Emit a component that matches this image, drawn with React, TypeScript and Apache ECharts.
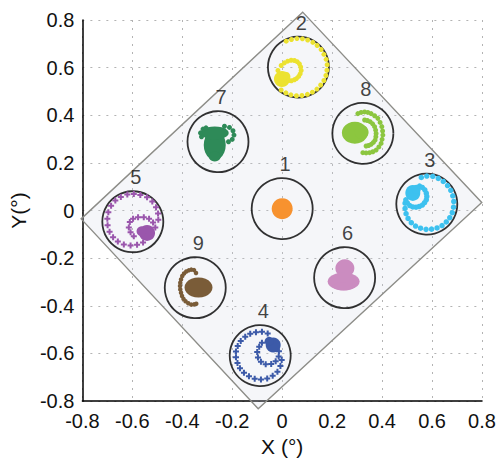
import React, { useEffect, useRef } from "react";
import * as echarts from "echarts";

// Field-of-view centres (degrees)
const CENTER_NAMES = ["1", "2", "3", "4", "5", "6", "7", "8", "9"];
const CENTER_X = [0.0, 0.065, 0.579, -0.088, -0.598, 0.25, -0.257, 0.323, -0.348];
const CENTER_Y = [0.008, 0.602, 0.027, -0.609, -0.047, -0.282, 0.289, 0.324, -0.324];
const COLORS = ["#f7922f", "#ece230", "#3dc1ef", "#3c5aa8", "#9a56ac", "#cb8cc0", "#2e8a58", "#8cc63f", "#7a5c38"];

// Detector footprint outline (degrees)
const DIAMOND_X = [0.082, 0.799, -0.096, -0.805];
const DIAMOND_Y = [0.833, 0.034, -0.832, -0.035];

// Axis ticks
const TICKS = [-0.8, -0.6, -0.4, -0.2, 0, 0.2, 0.4, 0.6, 0.8];

// Star track offsets from each centre (degrees): sparse trace points
const DOTS_1: number[][] = [];
const DOTS_2 = [
  [-0.049, 0.109], [-0.028, 0.116], [-0.006, 0.12], [0.016, 0.119], [0.037, 0.114], [0.058, 0.104],
  [0.075, 0.091], [0.091, 0.074], [0.102, 0.054], [0.111, 0.033], [0.115, 0.01], [0.114, -0.013],
  [0.11, -0.035], [0.102, -0.056], [0.089, -0.075], [0.074, -0.092], [0.056, -0.105], [0.036, -0.114],
  [0.014, -0.119], [-0.008, -0.12], [-0.03, -0.116], [-0.05, -0.108], [-0.069, -0.096],
  [-0.082, -0.014], [-0.069, 0.007], [-0.056, 0.018], [-0.043, 0.025], [-0.029, 0.029], [-0.016, 0.028],
  [-0.005, 0.023], [0.004, 0.014], [0.009, 0.001], [0.011, -0.014], [0.007, -0.028], [0.001, -0.039],
  [-0.008, -0.048], [-0.016, -0.053], [-0.028, -0.057], [-0.039, -0.056], [-0.052, -0.042],
];
const DOTS_3 = [
  [-0.022, 0.112], [0.0, 0.118], [0.024, 0.116], [0.046, 0.108], [0.066, 0.095], [0.083, 0.078],
  [0.096, 0.058], [0.104, 0.035], [0.108, 0.011], [0.107, -0.013], [0.102, -0.036], [0.092, -0.057],
  [0.078, -0.075], [0.061, -0.09], [0.041, -0.1], [0.019, -0.105], [-0.003, -0.106], [-0.025, -0.101],
  [-0.045, -0.092], [-0.062, -0.078], [-0.075, -0.06], [-0.083, -0.04], [-0.087, -0.018], [-0.087, 0.004],
  [-0.029, 0.076], [-0.018, 0.07], [-0.008, 0.06], [-0.002, 0.046], [0.0, 0.032], [-0.002, 0.018],
  [-0.009, 0.006], [-0.018, -0.004], [-0.03, -0.01], [-0.043, -0.013], [-0.056, -0.012], [-0.068, -0.006],
  [-0.078, 0.005], [-0.084, 0.018],
];
const DOTS_4 = [
  [0.03, 0.093], [0.007, 0.1], [-0.017, 0.098], [-0.04, 0.092], [-0.06, 0.079], [-0.078, 0.061],
  [-0.09, 0.04], [-0.097, 0.017], [-0.097, -0.007], [-0.091, -0.031], [-0.081, -0.053], [-0.065, -0.072],
  [-0.045, -0.087], [-0.022, -0.097], [0.003, -0.1], [0.028, -0.096], [0.05, -0.085], [0.069, -0.068],
  [0.081, -0.044], [0.086, -0.018],
  [0.007, 0.054], [-0.004, 0.037], [-0.012, 0.015], [-0.009, -0.008], [0.003, -0.026], [0.022, -0.036],
  [0.044, -0.035], [0.062, -0.024], [0.074, -0.004], [0.075, 0.018],
];
const DOTS_5 = [
  [0.004, 0.117], [0.03, 0.112], [0.057, 0.103], [0.078, 0.085], [0.093, 0.061], [0.101, 0.035],
  [0.102, 0.008], [-0.022, 0.114], [-0.048, 0.104], [-0.07, 0.089], [-0.087, 0.067], [-0.098, 0.04],
  [-0.102, 0.013], [-0.101, -0.015], [-0.093, -0.042], [-0.079, -0.065], [-0.06, -0.083], [-0.036, -0.096],
  [-0.009, -0.1], [0.017, -0.097], [0.041, -0.087],
  [-0.016, -0.024], [-0.012, -0.001], [0.001, 0.013], [0.021, 0.019], [0.044, 0.019], [0.065, 0.013],
  [0.081, -0.003], [0.09, -0.024], [-0.009, -0.044], [0.004, -0.061],
];
const DOTS_6: number[][] = [];
const DOTS_7 = [
  [-0.066, 0.021], [-0.07, 0.037], [-0.06, 0.053], [-0.048, 0.058], [0.026, 0.065], [0.046, 0.06],
  [0.06, 0.046], [0.064, 0.028], [0.057, 0.01], [0.042, 0.0],
];
const DOTS_8 = [
  [-0.02, 0.083], [-0.007, 0.088], [0.007, 0.09], [0.02, 0.088], [0.033, 0.083], [0.047, 0.074],
  [0.06, 0.063], [0.069, 0.046], [0.076, 0.028], [0.079, 0.01], [0.08, -0.007], [0.077, -0.025],
  [0.073, -0.042], [0.064, -0.057], [0.053, -0.07], [0.04, -0.077], [0.027, -0.081], [0.013, -0.082],
  [0.0, -0.081],
  [0.007, 0.056], [0.018, 0.054], [0.029, 0.049], [0.039, 0.04], [0.047, 0.028], [0.051, 0.014],
  [0.053, 0.0], [0.052, -0.014], [0.049, -0.028], [0.042, -0.038], [0.033, -0.046], [0.023, -0.051],
  [0.013, -0.053],
];
const DOTS_9 = [
  [-0.005, 0.074], [0.003, 0.062],
  [-0.016, 0.076], [-0.026, 0.073], [-0.036, 0.068], [-0.045, 0.06], [-0.052, 0.049], [-0.057, 0.035],
  [-0.06, 0.021], [-0.061, 0.007], [-0.06, -0.007], [-0.057, -0.021], [-0.053, -0.035], [-0.047, -0.047],
  [-0.039, -0.057], [-0.028, -0.065], [-0.016, -0.071], [-0.005, -0.07], [0.004, -0.067],
];

// Dense clusters of points (offsets, degrees)
const BLOBS_1 = [[0.0, 0.0]];
const BLOBS_2 = [[-0.066, -0.05], [-0.052, -0.04]];
const BLOBS_3 = [[-0.056, 0.047], [-0.042, 0.062]];
const BLOBS_4 = [[0.052, 0.045], [0.036, 0.06]];
const BLOBS_5 = [[0.057, -0.047], [0.035, -0.04]];
const BLOBS_6 = [[0.001, 0.04], [-0.004, -0.016], [-0.004, -0.036]];
const BLOBS_7 = [[-0.013, -0.014], [-0.013, 0.037], [-0.013, -0.062]];
const BLOBS_8 = [[-0.032, 0.003], [-0.005, 0.005]];
const BLOBS_9 = [[0.013, 0.001]];

const DOTS = [DOTS_1, DOTS_2, DOTS_3, DOTS_4, DOTS_5, DOTS_6, DOTS_7, DOTS_8, DOTS_9];
const BLOBS = [BLOBS_1, BLOBS_2, BLOBS_3, BLOBS_4, BLOBS_5, BLOBS_6, BLOBS_7, BLOBS_8, BLOBS_9];

// styling (pixel sizes)
const BLOB_PX: number[][][] = [
  [[21, 21]],
  [[16, 16], [10, 10]],
  [[15, 16], [9, 9]],
  [[15, 15], [9, 9]],
  [[16, 16], [10, 10]],
  [[19, 18], [32, 18], [22, 8]],
  [[22, 30], [28, 13], [12, 10]],
  [[26, 22], [14, 14]],
  [[28, 20]],
];
const DOT_PX = [5, 5, 5.5, 6, 6, 5, 5, 5, 4.5];
const PLUS = "path://M2,0H4V2H6V4H4V6H2V4H0V2H2Z";
const DOT_SYMBOL = ["circle", "circle", "circle", PLUS, PLUS, "circle", "circle", "circle", "circle"];

const FONT = "Liberation Sans, Arial, Helvetica, sans-serif";

export default function App() {
  const ref = useRef<HTMLDivElement>(null);
  useEffect(() => {
    if (!ref.current) return;
    const chart = echarts.init(ref.current, null, { renderer: "svg" });

    const starSeries: any[] = [];
    CENTER_NAMES.forEach((name, i) => {
      const cx = CENTER_X[i];
      const cy = CENTER_Y[i];
      const data: any[] = [];
      BLOBS[i].forEach((b, j) => {
        data.push({ value: [cx + b[0], cy + b[1]], symbol: "circle", symbolSize: BLOB_PX[i][j] });
      });
      DOTS[i].forEach((d) => {
        data.push({ value: [cx + d[0], cy + d[1]], symbol: DOT_SYMBOL[i], symbolSize: DOT_PX[i] });
      });
      starSeries.push({
        type: "scatter",
        name: "star" + name,
        data,
        itemStyle: { color: COLORS[i], opacity: 1 },
        z: 4,
        silent: true,
      });
    });

    const option: any = {
      animation: false,
      backgroundColor: "#ffffff",
      grid: { left: 79, right: 17, top: 20, bottom: 57, containLabel: false },
      xAxis: {
        type: "value",
        min: TICKS[0],
        max: TICKS[TICKS.length - 1],
        interval: 0.2,
        name: "X (°)",
        nameLocation: "middle",
        nameGap: 32,
        nameTextStyle: { fontSize: 21, color: "#111", fontFamily: FONT },
        axisLine: { show: true, onZero: false, lineStyle: { color: "#000", width: 1.5 } },
        axisTick: { show: false },
        axisLabel: {
          margin: 10,
          fontSize: 20,
          color: "#111",
          fontFamily: FONT,
          formatter: (v: number) => String(Number(v.toFixed(1))),
        },
        splitLine: { show: true, lineStyle: { color: "#b3b3b3", width: 1, type: [2, 6] } },
      },
      yAxis: {
        type: "value",
        min: TICKS[0],
        max: TICKS[TICKS.length - 1],
        interval: 0.2,
        name: "Y(°)",
        nameLocation: "middle",
        nameGap: 48,
        nameTextStyle: { fontSize: 21, color: "#111", fontFamily: FONT },
        axisLine: { show: true, onZero: false, lineStyle: { color: "#000", width: 1.5 } },
        axisTick: { show: false },
        axisLabel: {
          margin: 8,
          fontSize: 20,
          color: "#111",
          fontFamily: FONT,
          formatter: (v: number) => String(Number(v.toFixed(1))),
        },
        splitLine: { show: true, lineStyle: { color: "#b3b3b3", width: 1, type: [2, 6] } },
      },
      series: [
        {
          type: "custom",
          name: "footprint",
          clip: false,
          silent: true,
          z: 1,
          data: [[0, 0]],
          renderItem: (params: any, api: any) => ({
            type: "polygon",
            shape: { points: DIAMOND_X.map((x, k) => api.coord([x, DIAMOND_Y[k]])) },
            style: { fill: "rgba(205,212,225,0.2)", stroke: "#8d8d88", lineWidth: 1.4 },
          }),
        },
        {
          type: "scatter",
          name: "fields",
          silent: true,
          z: 3,
          symbol: "circle",
          symbolSize: 61,
          data: CENTER_NAMES.map((n, i) => ({ name: n, value: [CENTER_X[i], CENTER_Y[i]] })),
          itemStyle: { color: "rgba(0,0,0,0)", borderColor: "#000", borderWidth: 1.8 },
          label: {
            show: true,
            position: "top",
            distance: 3,
            offset: [3, 0],
            formatter: "{b}",
            fontSize: 20,
            color: "#111",
            fontFamily: FONT,
          },
        },
        ...starSeries,
      ],
    };
    chart.setOption(option);
    return () => chart.dispose();
  }, []);
  return (
    <div
      ref={ref}
      style={{ position: "fixed", left: 0, top: 0, width: 499, height: 462, background: "#fff" }}
    />
  );
}
